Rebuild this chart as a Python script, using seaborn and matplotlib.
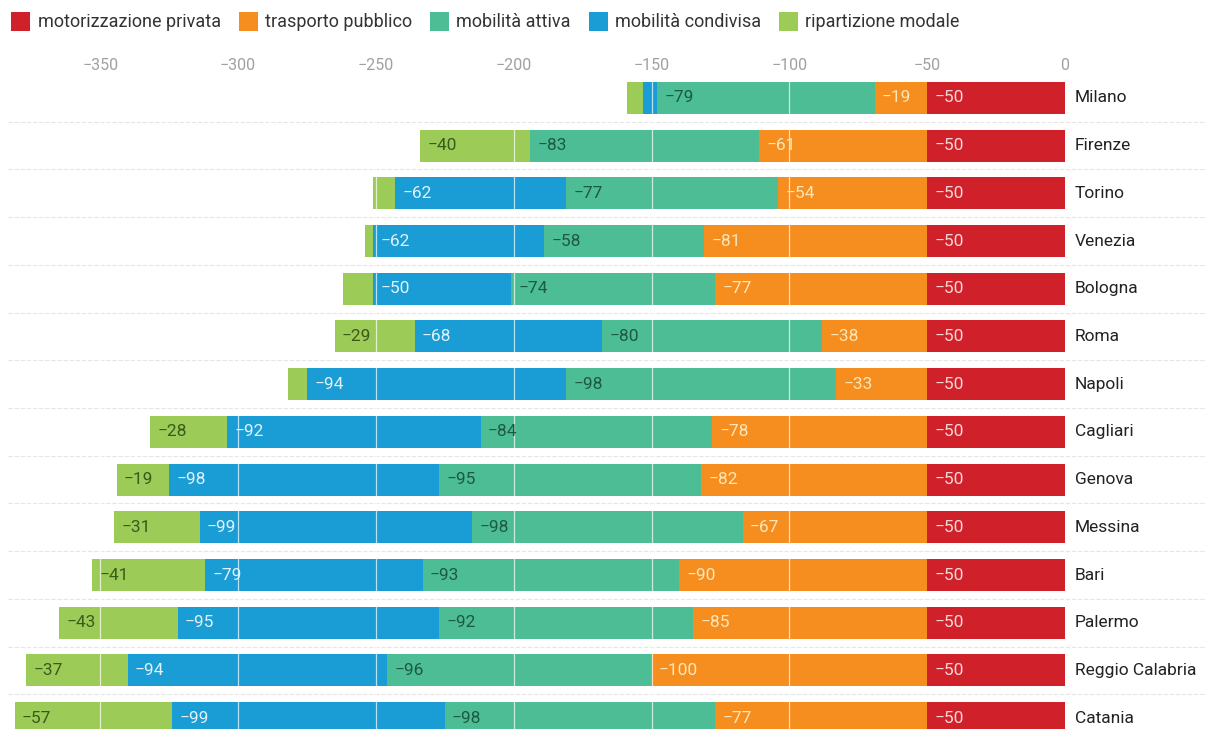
import matplotlib
matplotlib.use("Agg")
import matplotlib.pyplot as plt
from matplotlib.patches import Patch
import numpy as np
import pandas as pd
import seaborn as sns

sns.set_theme(style="white")
plt.rcParams["font.family"] = ["Roboto", "DejaVu Sans"]

# data
cities = ["Milano", "Firenze", "Torino", "Venezia", "Bologna", "Roma", "Napoli",
          "Cagliari", "Genova", "Messina", "Bari", "Palermo", "Reggio Calabria", "Catania"]
motorizzazione = [-50, -50, -50, -50, -50, -50, -50, -50, -50, -50, -50, -50, -50, -50]
trasporto = [-19, -61, -54, -81, -77, -38, -33, -78, -82, -67, -90, -85, -100, -77]
attiva = [-79, -83, -77, -58, -74, -80, -98, -84, -95, -98, -93, -92, -96, -98]
condivisa = [-5, 0, -62, -62, -50, -68, -94, -92, -98, -99, -79, -95, -94, -99]
ripartizione = [-6, -40, -8, -3, -11, -29, -7, -28, -19, -31, -41, -43, -37, -57]

series = ["motorizzazione privata", "trasporto pubblico", "mobilità attiva",
          "mobilità condivisa", "ripartizione modale"]
colors = ["#d0202a", "#f68d1f", "#4dbd96", "#1a9cd4", "#9dcb58"]
text_colors = ["#f7d6d6", "#fde6b8", "#1d5a40", "#e2f2fb", "#3b5a1a"]

df = pd.DataFrame({"city": cities,
                   series[0]: motorizzazione, series[1]: trasporto, series[2]: attiva,
                   series[3]: condivisa, series[4]: ripartizione})
cum = df[series].cumsum(axis=1)

W, H = 1205, 729
fig = plt.figure(figsize=(W / 100, H / 100), dpi=100)
# axes: x from 8px to 1065px, rows 47.7px apart starting at y=74
ax = fig.add_axes([8 / W, (H - 742) / H, (1065 - 8) / W, 668 / H])

# stacked bars: draw widest cumulative first, then overlay
for k in range(len(series) - 1, -1, -1):
    sns.barplot(data=cum.assign(city=df["city"]), x=series[k], y="city",
                orient="h", color=colors[k], saturation=1, width=0.67,
                linewidth=0, ax=ax, zorder=2)

ax.set_xlim(-383.5, 0)
ax.set_ylim(13.5, -0.5)
ax.set_xlabel("")
ax.set_ylabel("")
ax.set_yticks([])
ax.set_xticks([-350, -300, -250, -200, -150, -100, -50, 0])
ax.set_xticklabels(["\u2212350", "\u2212300", "\u2212250", "\u2212200",
                    "\u2212150", "\u2212100", "\u221250", "0"])
ax.xaxis.tick_top()
ax.tick_params(axis="x", length=0, pad=1, labelsize=11.5, labelcolor="#a0a0a0")
for s in ax.spines.values():
    s.set_visible(False)

# white grid lines over the bars
for xv in [-350, -300, -250, -200, -150, -100]:
    ax.axvline(xv, color="white", lw=0.9, alpha=0.7, zorder=3)

# row separators
for i in range(len(cities) - 1):
    ax.axhline(i + 0.5, xmin=0, xmax=1.133, color="#e6e6e6", lw=0.8,
               ls=(0, (4, 1.5)), clip_on=False, zorder=1)

# value labels
for i in range(len(cities)):
    for k, s in enumerate(series):
        v = df.loc[i, s]
        if abs(v) < 15:
            continue
        left = cum.loc[i, s]
        ax.text(left + 2.6, i, f"\u2212{abs(v)}", ha="left", va="center",
                fontsize=12.5, color=text_colors[k], zorder=4)
    ax.text(3.5, i, cities[i], ha="left", va="center", fontsize=12.5,
            color="#222222", clip_on=False)

handles = [Patch(facecolor=c, edgecolor="none") for c in colors]
fig.legend(handles, series, loc="upper left", bbox_to_anchor=(-0.004, 1.006),
           ncol=5, frameon=False, fontsize=13, handlelength=1.05, handleheight=1.25,
           handletextpad=0.4, columnspacing=1.0, labelcolor="#333333")

fig.savefig("out.png", dpi=100, facecolor="white")
